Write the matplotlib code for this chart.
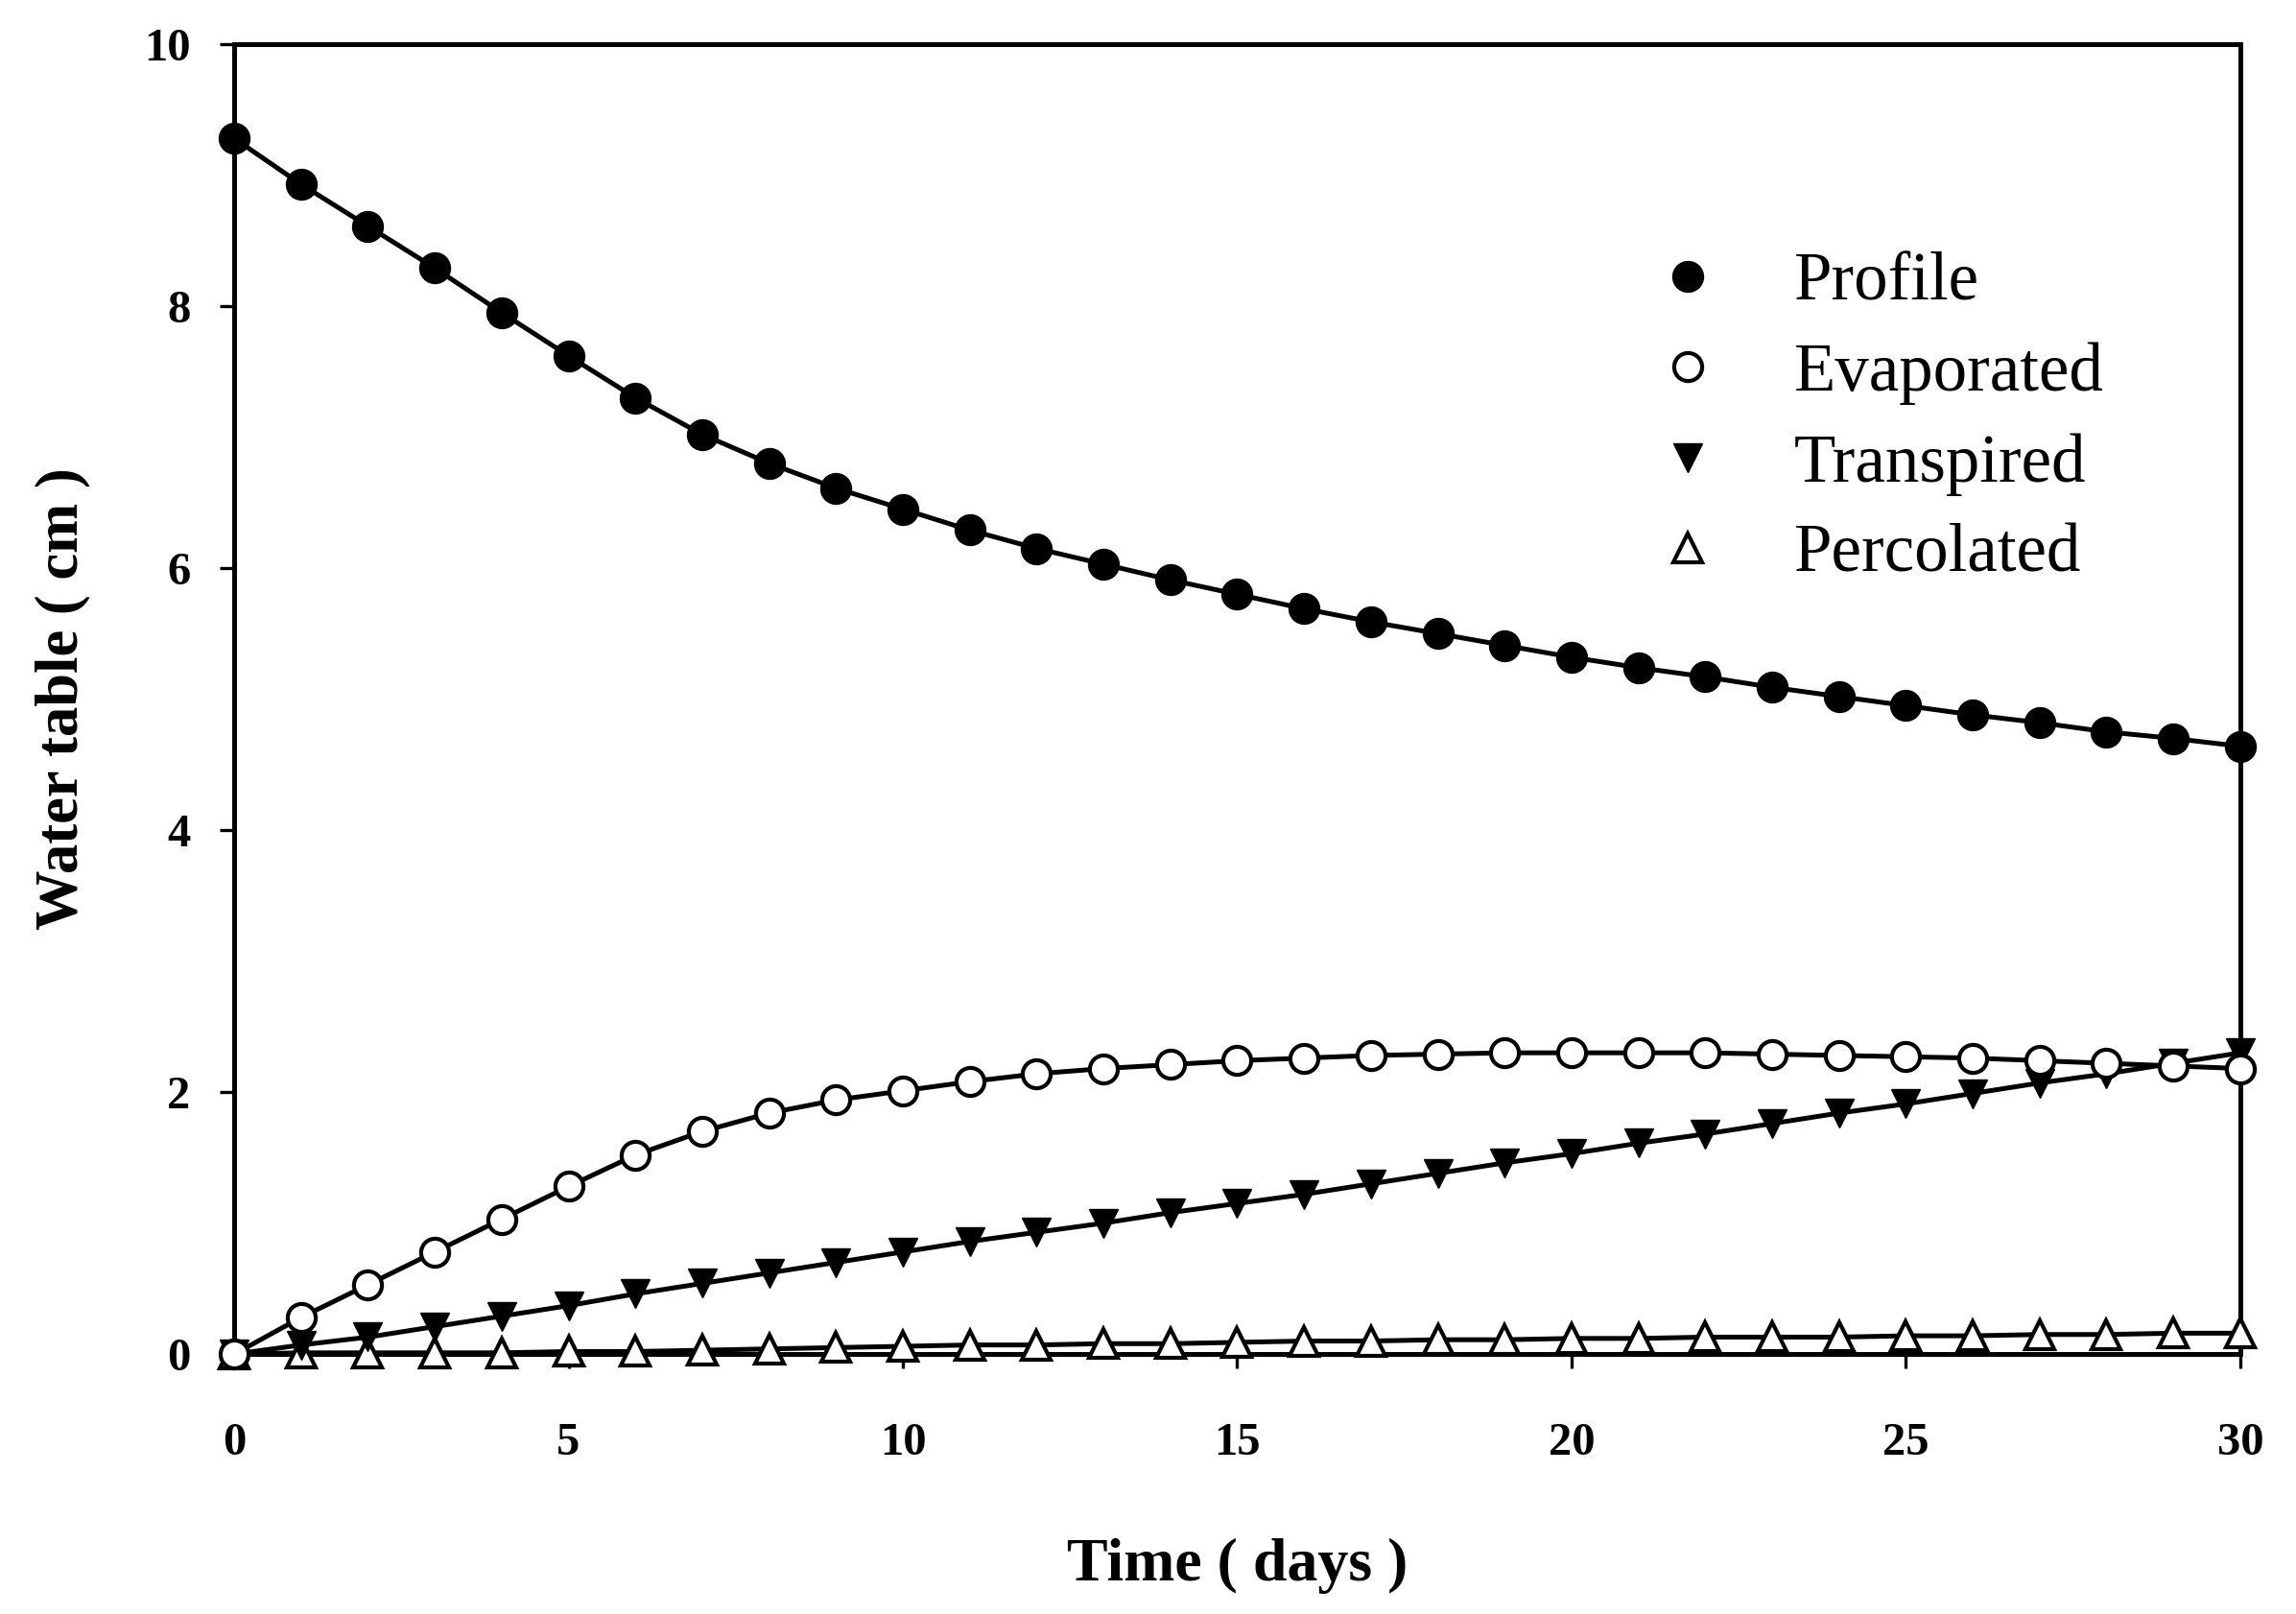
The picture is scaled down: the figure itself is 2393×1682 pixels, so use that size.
import matplotlib
matplotlib.use('Agg')
import matplotlib.pyplot as plt
from matplotlib.lines import Line2D

plt.rcParams['font.family'] = ['Liberation Serif', 'DejaVu Serif']

# days
days = list(range(0, 31))

# water amounts (cm)
profile = [9.28, 8.93, 8.61, 8.29, 7.95, 7.62, 7.30, 7.02, 6.80, 6.61, 6.45,
           6.29, 6.15, 6.03, 5.91, 5.80, 5.69, 5.59, 5.50, 5.41, 5.32,
           5.24, 5.17, 5.09, 5.02, 4.95, 4.88, 4.82, 4.75, 4.70, 4.64]
evaporated = [0.00, 0.28, 0.53, 0.78, 1.03, 1.28, 1.52, 1.70, 1.84, 1.94, 2.01,
              2.08, 2.14, 2.18, 2.21, 2.24, 2.26, 2.28, 2.29, 2.30, 2.30,
              2.30, 2.30, 2.29, 2.28, 2.27, 2.26, 2.24, 2.22, 2.20, 2.18]
transpired = [0.00, 0.07, 0.13, 0.21, 0.29, 0.37, 0.46, 0.54, 0.62, 0.70, 0.78,
              0.86, 0.93, 1.00, 1.08, 1.15, 1.22, 1.30, 1.38, 1.46, 1.53,
              1.61, 1.68, 1.76, 1.84, 1.91, 1.99, 2.07, 2.14, 2.22, 2.30]
percolated = [0.00, 0.01, 0.01, 0.01, 0.01, 0.02, 0.02, 0.03, 0.04, 0.05, 0.06,
              0.07, 0.07, 0.08, 0.08, 0.09, 0.10, 0.10, 0.11, 0.11, 0.12,
              0.12, 0.13, 0.13, 0.13, 0.14, 0.14, 0.15, 0.15, 0.16, 0.16]

labels = ['Profile', 'Evaporated', 'Transpired', 'Percolated']

fig = plt.figure(figsize=(23.93, 16.82), dpi=100)
ax = fig.add_axes([0.102, 0.161, 0.8737, 0.8117])

lw = 3.6
ax.plot(days, percolated, '-', color='k', lw=lw, marker='^', ms=22,
        mfc='white', mec='k', mew=3, clip_on=False, zorder=3)
ax.plot(days, transpired, '-', color='k', lw=lw, marker='v', ms=22,
        mfc='k', mec='k', clip_on=False, zorder=4)
ax.plot(days, evaporated, '-', color='k', lw=lw, marker='o', ms=21,
        mfc='white', mec='k', mew=3, clip_on=False, zorder=5)
ax.plot(days, profile, '-', color='k', lw=lw, marker='o', ms=23,
        mfc='k', mec='k', clip_on=False, zorder=6)

ax.set_xlim(0, 30)
ax.set_ylim(0, 10)
ax.set_xticks([0, 5, 10, 15, 20, 25, 30])
ax.set_yticks([0, 2, 4, 6, 8, 10])

for s in ax.spines.values():
    s.set_linewidth(3.6)
ax.tick_params(axis='both', direction='out', length=11, width=2.4,
               labelsize=35)
ax.tick_params(axis='y', pad=22)
ax.tick_params(axis='x', pad=40)
for t in ax.get_xticklabels() + ax.get_yticklabels():
    t.set_fontweight('bold')

ax.set_xlabel('Time ( days )', fontsize=46, fontweight='bold', labelpad=55)
ax.set_ylabel('Water table ( cm )', fontsize=45, fontweight='bold', labelpad=40)

handles = [
    Line2D([], [], ls='none', marker='o', ms=23, mfc='k', mec='k'),
    Line2D([], [], ls='none', marker='o', ms=21, mfc='white', mec='k', mew=3),
    Line2D([], [], ls='none', marker='v', ms=22, mfc='k', mec='k'),
    Line2D([], [], ls='none', marker='^', ms=22, mfc='white', mec='k', mew=3),
]
ax.legend(handles, labels, loc='upper left', bbox_to_anchor=(0.694, 0.862),
          frameon=False, fontsize=51, handlelength=1.0, handletextpad=1.07,
          labelspacing=0.41, borderaxespad=0)

fig.savefig('out.png', dpi=100)
